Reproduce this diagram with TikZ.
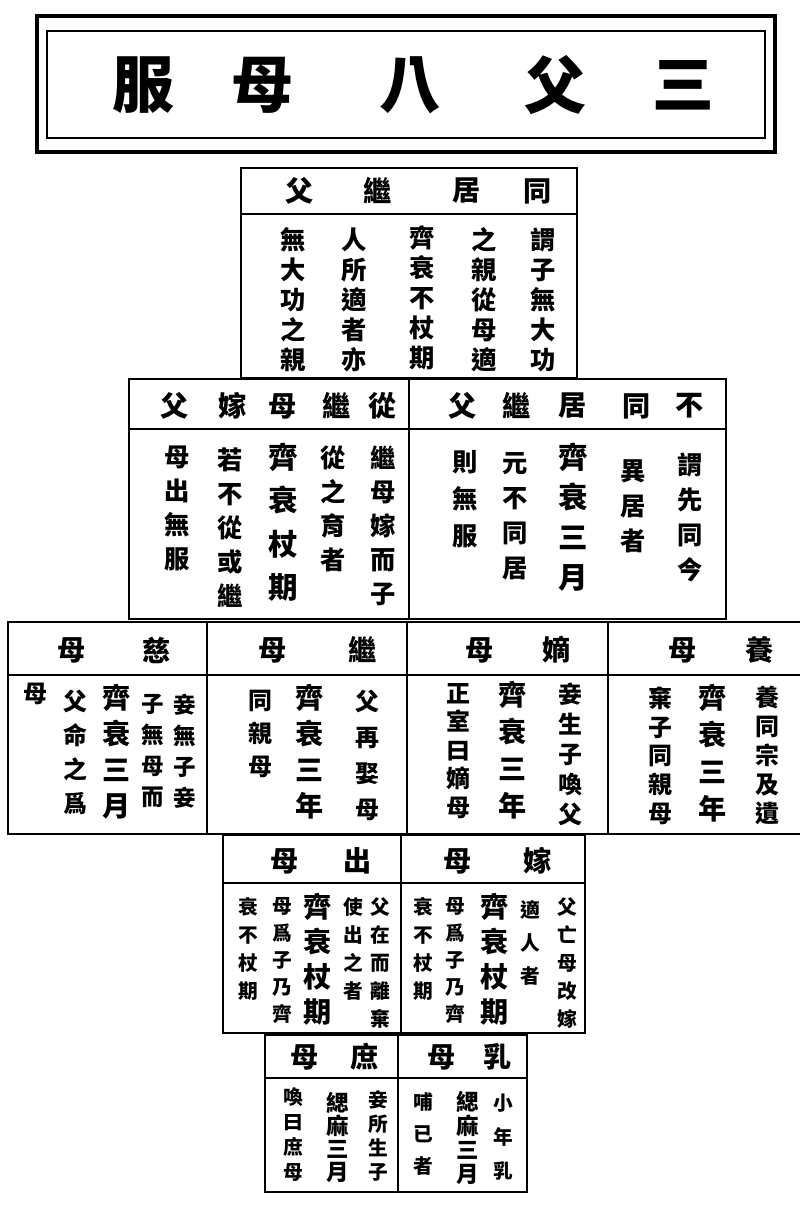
\documentclass[tikz,border=0pt]{standalone}
\usepackage{fontspec}
\newfontfamily\cjk{Noto Sans CJK TC}
\begin{document}
\begin{tikzpicture}[x=0.025cm,y=-0.025cm,
    ttl/.style={font=\cjk\bfseries\fontsize{44}{44}\selectfont, inner sep=0pt},
    hd/.style={font=\cjk\bfseries\fontsize{20}{20}\selectfont, inner sep=0pt},
    col/.style 2 args={font=\cjk\bfseries\fontsize{#1}{#2}\selectfont, anchor=north, align=center, inner sep=0pt, yshift=#1*0.5pt},
    box/.style={line width=1.2pt}]
    \useasboundingbox (0,0) rectangle (800,1208);
    \fill[white] (0,0) rectangle (800,1208);

    % Title
    \draw[line width=3pt] (37,16) rectangle (775,152);
    \draw[line width=1.1pt] (47,31) rectangle (765,138);
    \node[ttl] (t1) at (143,85) {服};
    \node[ttl] (t2) at (262,85) {母};
    \node[ttl] (t3) at (410,85) {八};
    \node[ttl] (t4) at (555,85) {父};
    \node[ttl] (t5) at (683,85) {三};

    % Frames
    \draw[box] (241,168) rectangle (577,378);
    \draw[box] (241,214) -- (577,214);
    \draw[box] (129,379) rectangle (726,619);
    \draw[box] (129,429) -- (726,429);
    \draw[box] (409,379) -- (409,619);
    \draw[box] (8,622) rectangle (812,834);
    \draw[box] (8,675) -- (812,675);
    \draw[box] (207,622) -- (207,834);
    \draw[box] (407,622) -- (407,834);
    \draw[box] (608,622) -- (608,834);
    \draw[box] (223,835) rectangle (585,1033);
    \draw[box] (223,883) -- (585,883);
    \draw[box] (401,835) -- (401,1033);
    \draw[box] (265,1035) rectangle (527,1192);
    \draw[box] (265,1078) -- (527,1078);
    \draw[box] (398,1035) -- (398,1192);

    % Headers
    \node[hd] (hA1) at (300,191) {父};
    \node[hd] (hA2) at (378,191) {繼};
    \node[hd] (hA3) at (467,191) {居};
    \node[hd] (hA4) at (538,191) {同};
    \node[hd] (hB1) at (175,406) {父};
    \node[hd] (hB2) at (233,406) {嫁};
    \node[hd] (hB3) at (283,406) {母};
    \node[hd] (hB4) at (337,406) {繼};
    \node[hd] (hB5) at (383,406) {從};
    \node[hd] (hC1) at (463,406) {父};
    \node[hd] (hC2) at (517,406) {繼};
    \node[hd] (hC3) at (573,406) {居};
    \node[hd] (hC4) at (637,406) {同};
    \node[hd] (hC5) at (690,406) {不};
    \node[hd] (hD1) at (72,650) {母};
    \node[hd] (hD2) at (157,650) {慈};
    \node[hd] (hD3) at (273,650) {母};
    \node[hd] (hD4) at (363,650) {繼};
    \node[hd] (hD5) at (480,650) {母};
    \node[hd] (hD6) at (557,650) {嫡};
    \node[hd] (hD7) at (683,650) {母};
    \node[hd] (hD8) at (760,650) {養};
    \node[hd] (hE1) at (285,861) {母};
    \node[hd] (hE2) at (358,861) {出};
    \node[hd] (hE3) at (458,861) {母};
    \node[hd] (hE4) at (538,861) {嫁};
    \node[hd] (hF1) at (305,1057) {母};
    \node[hd] (hF2) at (365,1057) {庶};
    \node[hd] (hF3) at (442,1057) {母};
    \node[hd] (hF4) at (498,1057) {乳};

    % 同居繼父
    \node[col={18}{21.3}] (cA1) at (543,240) {謂\\子\\無\\大\\功};
    \node[col={18}{21.3}] (cA2) at (484,240) {之\\親\\從\\母\\適};
    \node[col={18}{21.3}] (cA3) at (422,238) {齊\\衰\\不\\杖\\期};
    \node[col={18}{21.3}] (cA4) at (354,240) {人\\所\\適\\者\\亦};
    \node[col={18}{21.3}] (cA5) at (293,240) {無\\大\\功\\之\\親};

    % 從繼母嫁父
    \node[col={18}{24.2}] (cB1) at (383,458) {繼\\母\\嫁\\而\\子};
    \node[col={18}{24.2}] (cB2) at (333,458) {從\\之\\育\\者};
    \node[col={21}{30.6}] (cB3) at (283,458) {齊\\衰\\杖\\期};
    \node[col={18}{24.2}] (cB4) at (230,460) {若\\不\\從\\或\\繼};
    \node[col={18}{24.2}] (cB5) at (177,458) {母\\出\\無\\服};

    % 不同居繼父
    \node[col={18}{24.9}] (cC1) at (690,465) {謂\\先\\同\\今};
    \node[col={18}{24.9}] (cC2) at (633,472) {異\\居\\者};
    \node[col={21}{28.4}] (cC3) at (573,458) {齊\\衰\\三\\月};
    \node[col={18}{24.9}] (cC4) at (515,465) {元\\不\\同\\居};
    \node[col={18}{26.3}] (cC5) at (465,463) {則\\無\\服};

    % 慈母
    \node[col={16}{22}] (cD1) at (185,705) {妾\\無\\子\\妾};
    \node[col={16}{22}] (cD2) at (153,705) {子\\無\\母\\而};
    \node[col={20}{25.6}] (cD3) at (117,698) {齊\\衰\\三\\月};
    \node[col={17}{24.2}] (cD4) at (75,702) {父\\命\\之\\爲};
    \node[col={17}{24.2}] (cD5) at (35,695) {母};
    % 繼母
    \node[col={17}{25.6}] (cD6) at (367,702) {父\\再\\娶\\母};
    \node[col={20}{25.6}] (cD7) at (310,698) {齊\\衰\\三\\年};
    \node[col={17}{23.5}] (cD8) at (260,702) {同\\親\\母};
    % 嫡母
    \node[col={17}{21.3}] (cD9) at (570,695) {妾\\生\\子\\喚\\父};
    \node[col={20}{26.3}] (cD10) at (513,695) {齊\\衰\\三\\年};
    \node[col={17}{20.3}] (cD11) at (458,695) {正\\室\\曰\\嫡\\母};
    % 養母
    \node[col={17}{20.6}] (cD12) at (767,698) {養\\同\\宗\\及\\遺};
    \node[col={20}{26.3}] (cD13) at (713,698) {齊\\衰\\三\\年};
    \node[col={17}{20.6}] (cD14) at (660,698) {棄\\子\\同\\親\\母};

    % 出母
    \node[col={14}{19.9}] (cE1) at (380,907) {父\\在\\而\\離\\棄};
    \node[col={14}{19.9}] (cE2) at (353,907) {使\\出\\之\\者};
    \node[col={20}{24.9}] (cE3) at (318,907) {齊\\衰\\杖\\期};
    \node[col={14}{19.2}] (cE4) at (282,907) {母\\爲\\子\\乃\\齊};
    \node[col={14}{19.9}] (cE5) at (248,907) {衰\\不\\杖\\期};
    % 嫁母
    \node[col={14}{19.9}] (cE6) at (567,907) {父\\亡\\母\\改\\嫁};
    \node[col={14}{23.5}] (cE7) at (530,910) {適\\人\\者};
    \node[col={20}{24.9}] (cE8) at (495,907) {齊\\衰\\杖\\期};
    \node[col={14}{19.2}] (cE9) at (455,907) {母\\爲\\子\\乃\\齊};
    \node[col={14}{19.9}] (cE10) at (423,907) {衰\\不\\杖\\期};

    % 庶母
    \node[col={14}{17.1}] (cF1) at (378,1100) {妾\\所\\生\\子};
    \node[col={16}{16.4}] (cF2) at (338,1103) {緦\\麻\\三\\月};
    \node[col={14}{17.8}] (cF3) at (293,1097) {喚\\曰\\庶\\母};
    % 乳母
    \node[col={14}{24.2}] (cF4) at (503,1103) {小\\年\\乳};
    \node[col={16}{17.1}] (cF5) at (468,1102) {緦\\麻\\三\\月};
    \node[col={14}{22.8}] (cF6) at (423,1102) {哺\\已\\者};
\end{tikzpicture}
\end{document}
